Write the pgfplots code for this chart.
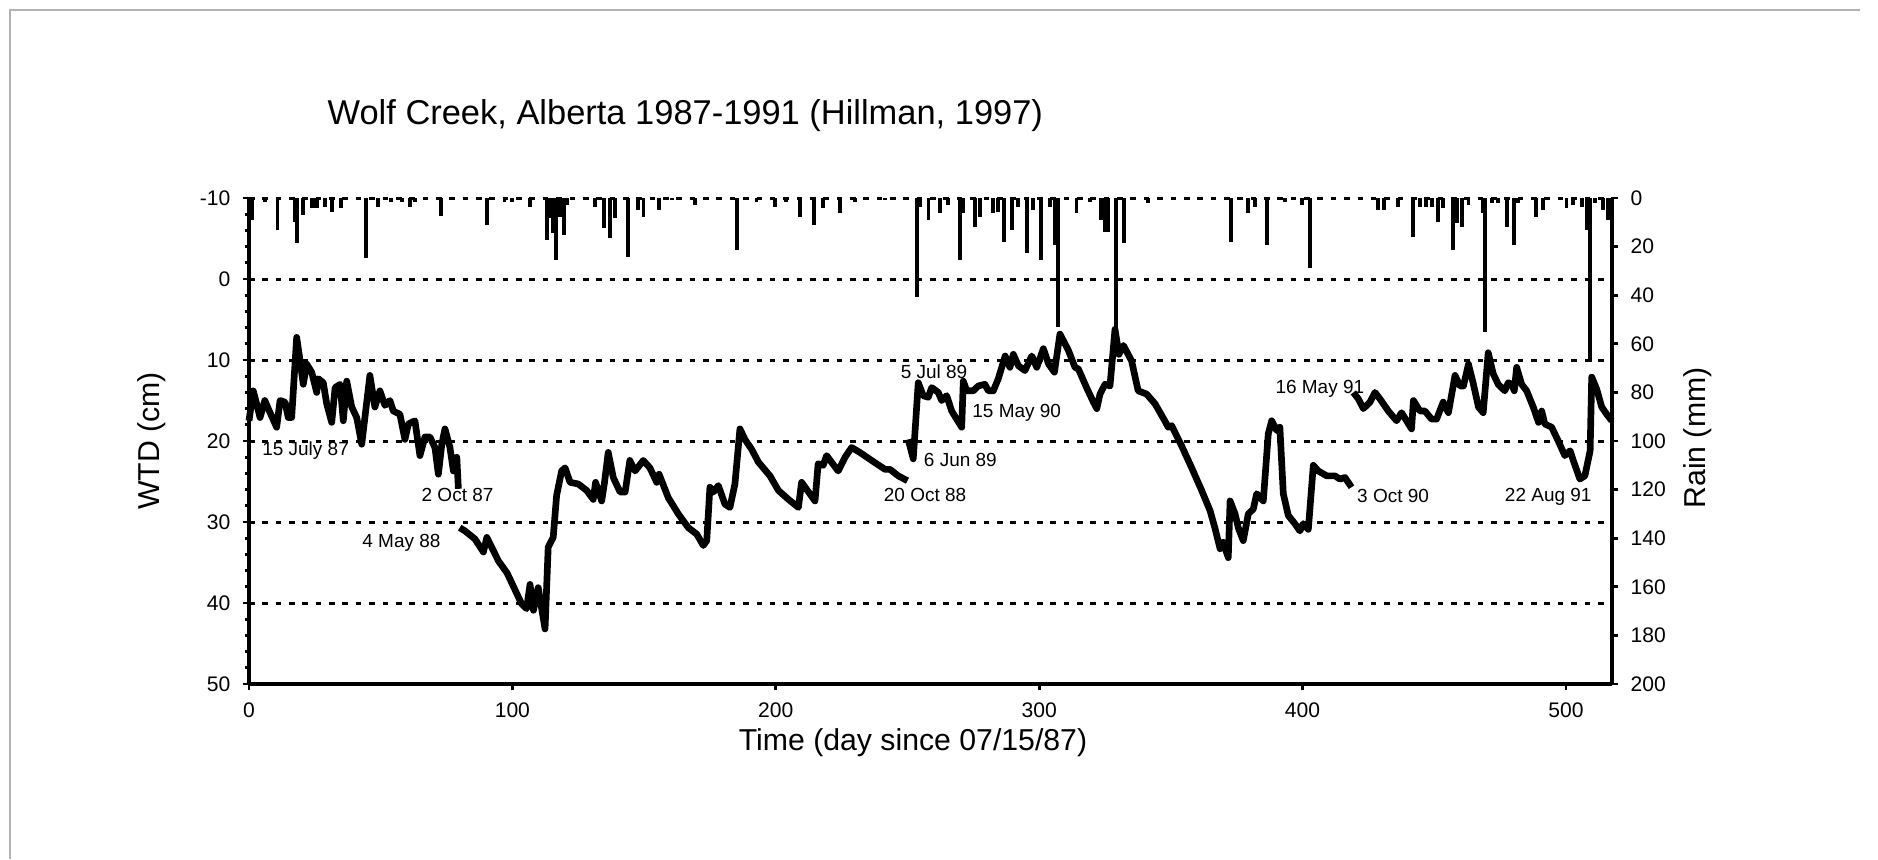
\documentclass[border=0pt]{standalone}
\usepackage{fontspec}
\setmainfont{Liberation Sans}
\usepackage{pgfplots}
\usepackage{pgfplotstable}
\pgfplotsset{compat=1.18}

% water table depth, one table per measuring season
\pgfplotstableread{
day wtd
0 17.5
1.6 13.8
2.9 15.4
4.2 17.1
6 15
8 16.5
10.5 18.3
11.8 15
13.7 15.2
14.9 17.1
16.2 17.1
18.1 7.2
19.4 10.1
20.6 13
21.9 10.5
23.8 11.5
25.7 14
26.3 12.3
28.2 12.8
29.5 15.4
31.4 17.7
32.7 13.4
34.6 13
35.8 17.5
37.1 12.6
39 15.8
40.9 17.1
42.8 20.4
45.9 11.9
47.8 15.8
49.7 13.8
51.6 15.6
53.5 15
54.8 16.3
57.3 16.7
59.2 19.8
60.5 17.9
63 17.5
64.9 21.8
66.8 19.5
68.7 19.5
70.6 20.8
71.9 24.1
73.2 20.4
74.4 18.5
76.3 20.8
77.6 23.7
78.9 22
79.5 25.9
}\segA

\pgfplotstableread{
day wtd
80 30.7
82 31.1
85.8 32.1
89 33.7
90.3 31.9
94.7 34.8
98 36.3
103.5 40.1
105.4 40.7
106.7 37.7
108 40.9
109.8 38.1
112.4 43.2
113.6 33.1
115.5 31.9
116.8 26.7
118.7 23.7
120 23.3
121.9 25.1
125 25.3
128.2 26.1
130.7 27.2
131.6 25.1
133.9 27.4
134.9 25.3
136.4 21.4
138.3 24.5
140.9 26.3
142.8 26.3
144.6 22.4
146.6 23.7
149.7 22.4
152.2 23.3
154.8 25.1
155.7 24.1
159.2 27
163 29
166.8 30.7
170 31.5
172.5 32.9
173.8 32.3
175 25.7
176.3 26.3
178.2 25.5
180.7 27.8
182.6 28.2
184.5 25.3
186.4 18.5
188.3 19.8
190.8 21
193.4 22.6
197.8 24.3
201 26.1
204.8 27.2
208.6 28.2
209.8 25.1
214.9 27.4
216.1 22.8
218 23
219.3 21.8
223.7 23.7
226.3 22
228.8 20.8
231.9 21.4
236.4 22.4
241.5 23.5
243.4 23.5
246.5 24.3
250 24.9
}\segB

\pgfplotstableread{
day wtd
250.3 19.8
252.2 22.2
254.1 12.8
256 14.4
257.9 14.6
259.2 13.4
261.7 14
263 15
264.9 14.4
266.8 16.3
270.6 18.3
271.2 12.6
272.5 13.8
275 13.8
276.9 13.2
279.4 13
280.7 13.8
282.6 13.8
284.5 12.3
287.1 9.5
288.9 10.9
290.2 9.3
292.1 10.7
294.6 11.3
297.2 9.5
299.1 10.9
301.6 8.6
303.6 10.5
305.8 11.5
307.9 6.8
311.1 8.8
313.6 10.9
314.9 11.1
318 13.4
320.6 15.2
321.9 16
323.1 14.2
325 13
326.9 13.2
328.8 6.2
330.3 9.3
332 8.2
335.1 10.1
337.6 13.8
340.8 14.2
344 15.4
347.7 17.5
349 18.3
350.3 18.1
354.1 20.6
357.9 23.3
361.7 26.1
364.9 28.6
366.7 30.7
368.7 33.3
369.9 32.5
371.8 34.4
372.5 27.4
374.4 29
375.6 30.7
377.5 32.3
379.4 29
381.3 28.4
382.6 26.5
385.1 27.4
387 19.1
388.3 17.5
390.2 18.7
391.4 18.3
392.7 26.5
394.6 29.2
397.1 30.2
399 31.1
400.3 30.2
402.2 30.9
404.1 23
406 23.7
409.2 24.3
412.3 24.3
414.2 24.7
416.1 24.5
418.6 25.7
}\segC

\pgfplotstableread{
day wtd
419.3 14
421.2 14.8
423.1 16
425.6 15.2
427.5 14
429.4 14.8
432.6 16.3
435.7 17.5
437.6 16.5
439.5 17.5
441.4 18.5
442.1 15
444.6 16.3
446.5 16.3
449 17.3
450.9 17.3
453.4 15.2
455.4 16.5
457.9 11.9
459.8 13.2
461.1 13.2
463 10.5
464.9 13
466.8 15.8
468.6 16.5
470.5 9.1
472.4 11.7
474.3 13
476.8 13.8
478.1 12.8
479.4 13
480.4 13.8
481.3 10.9
483.2 13
485.1 13.8
487.6 15.8
489.6 17.7
490.8 16.3
492 17.9
494.6 18.3
497.1 20
499.6 21.8
501.6 21.2
502.8 22.4
505.3 24.7
507.2 24.3
509.2 21.2
509.8 12.1
511.7 13.6
513.6 15.8
515.5 16.7
517.4 17.5
}\segD

% daily rain (mm)
\pgfplotstableread{
day rain
1 9
6 1.5
10.8 13
17.5 10
18.1 18.7
20.6 7
24 4
25 4
26 4
29 3.5
31.6 5.6
35 4
44.3 24.8
49 3.5
54 1.5
58 1.5
61 3.5
63 1.5
73 7.4
90.3 11
97 1.5
100 1.5
106.7 3.5
113 17.3
114.3 8.4
115.5 14.5
116.6 25.5
118 7.7
119.7 15.2
120.6 2.9
131.4 3.5
134.9 12.5
137 16.6
138.9 8.4
144 24.1
147.8 5
149.8 7.7
155.7 5
160.5 1
169.3 3
185.4 21.4
192.7 1.5
199.7 3.5
204 1.5
209.2 7.7
214.5 11
218 4.3
224.4 6.3
230 1.5
241.5 1
253.5 40.6
254.7 3.5
258 9
262.3 6.3
265.5 3
270 25.5
271.2 6.3
275.6 11.8
277.5 7.7
282.6 6.3
284.5 5.6
286.6 18
289.6 13.2
292.1 3.5
295.3 22.8
297.8 5
300.6 25.5
304.1 3.5
306 19.3
307.3 53
314.2 6.3
319.3 1.5
323.5 9
325 13.9
326 13.9
329.2 57
332.2 18.7
341.4 2.2
372.8 18
379.4 6.3
381.9 3.5
386.4 19.3
393.3 1.5
399.7 3
403 28.9
428.5 5
430.9 5
436.3 3.5
442 15.9
444.6 3.5
447 3.5
449 3.5
451.5 9.7
453.4 4.3
457.2 21.4
458.5 10.4
460.6 11.8
463 3
468.6 6.3
469.3 55
471.8 2.2
474.3 2.2
477.5 11.8
480.4 19.3
481.9 2.2
488.8 7.7
491.4 5
500.2 4.3
502.8 3
506 3.5
507.9 13.2
509.2 67.4
511.1 2.2
514.2 5
516.1 9
}\rain

\pgfplotsset{
  every axis/.append style={
    scale only axis,
    width=13.63cm, height=4.86cm,
    at={(2.49cm,1.75cm)}, anchor=south west,
    xmin=0, xmax=517.5,
    y dir=reverse,
    axis line style={line width=1pt},
    tick style={black, line width=0.8pt},
    tick align=outside,
    major tick length=1.8pt, minor tick length=1.2pt,
    tick label style={font=\fontsize{6}{7}\selectfont},
    /pgf/number format/assume math mode=true,
    clip=false,
  },
}
\tikzset{datelbl/.style={anchor=west, inner sep=0pt, font=\fontsize{5.4}{6}\selectfont}}

\begin{document}
\begin{tikzpicture}
\useasboundingbox (0,0) rectangle (18.78,8.59);
\draw[gray!60, line width=0.5pt] (0.1,0) -- (0.1,8.49) -- (18.6,8.49);

% rain, right axis
\begin{axis}[
  axis y line*=right, axis x line=none,
  ymin=0, ymax=200,
  ytick={0,20,...,200},
]
\addplot[ycomb, black, line width=1.1pt, mark=none] table[x=day, y=rain] {\rain};
\end{axis}

% water table depth, left axis
\begin{axis}[
  axis x line*=bottom, axis y line*=left,
  ymin=-10, ymax=50,
  ytick={-10,0,...,50}, minor y tick num=4,
  xtick={0,100,...,500},
  ymajorgrids,
  major grid style={black, line width=0.85pt, dash pattern=on 1.6pt off 2.2pt},
]
\addplot[black, line width=1.9pt, mark=none, line join=round] table[x=day, y=wtd] {\segA};
\addplot[black, line width=1.9pt, mark=none, line join=round] table[x=day, y=wtd] {\segB};
\addplot[black, line width=1.9pt, mark=none, line join=round] table[x=day, y=wtd] {\segC};
\addplot[black, line width=1.9pt, mark=none, line join=round] table[x=day, y=wtd] {\segD};

\node[datelbl] at (axis cs:4.8,21.2) {15 July 87};
\node[datelbl] at (axis cs:65.3,26.7) {2 Oct 87};
\node[datelbl] at (axis cs:42.8,32.6) {4 May 88};
\node[datelbl] at (axis cs:240.8,26.7) {20 Oct 88};
\node[datelbl] at (axis cs:256,22.3) {6 Jun 89};
\node[datelbl] at (axis cs:247.2,11.5) {5 Jul 89};
\node[datelbl] at (axis cs:274.4,16.5) {15 May 90};
\node[datelbl] at (axis cs:420.5,26.8) {3 Oct 90};
\node[datelbl] at (axis cs:389.5,13.5) {16 May 91};
\node[datelbl] at (axis cs:476.6,26.9) {22 Aug 91};
\end{axis}

\node[anchor=west, inner sep=0pt, font=\fontsize{9.8}{11}\selectfont] at (3.27,7.43) {Wolf Creek, Alberta 1987-1991 (Hillman, 1997)};
\node[font=\fontsize{8.6}{10}\selectfont] at (9.13,1.16) {Time (day since 07/15/87)};
\node[rotate=90, font=\fontsize{8.6}{10}\selectfont] at (1.52,4.18) {WTD (cm)};
\node[rotate=90, font=\fontsize{8.6}{10}\selectfont] at (16.98,4.21) {Rain (mm)};
\end{tikzpicture}
\end{document}
